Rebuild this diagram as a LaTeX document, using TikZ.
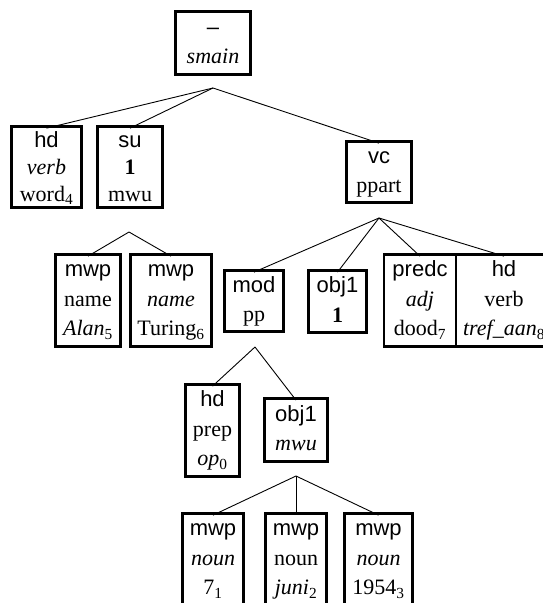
\documentclass[tikz,border=0pt]{standalone}
\usepackage{fontspec}
\setmainfont{Liberation Serif}
\setsansfont{Liberation Sans}
\tikzset{
  tbox/.style={draw, line width=2.7pt, inner sep=0pt},
  ttext/.style={inner sep=0pt, font=\fontsize{22}{29.5}\selectfont},
  tight/.style={font=\fontsize{22}{27}\selectfont, yshift=-2pt},
  plain/.style={},
  edge/.style={line width=0.9pt},
}
\newcommand{\lab}[1]{{\sffamily #1}}
% name, x, y, width, height, text options, text
\newcommand{\tb}[7]{%
  \node[tbox, minimum width=#4pt, minimum height=#5pt] (#1) at (#2,#3) {};
  \node[ttext, #6] (#1-t) at (#1.center) {\begin{tabular}{@{}c@{}}#7\end{tabular}};
}
\begin{document}
\begin{tikzpicture}[x=1pt,y=-1pt]
\useasboundingbox (0,0) rectangle (543,603);
% nodes
\tb{top}{213}{43}{75}{63}{plain}{\lab{–}\\\textit{smain}}
\tb{hd}{46.5}{167}{70}{81}{tight}{\lab{hd}\\\textit{verb}\\word\textsubscript{4}}
\tb{su}{130}{167}{65}{81}{tight}{\lab{su}\\\textbf{1}\\mwu}
\tb{vc}{379}{172}{65}{61}{plain}{\lab{vc}\\ppart}
\tb{alan}{88}{300.5}{65}{92}{plain}{\lab{mwp}\\name\\\textit{Alan}\textsubscript{5}}
\tb{turing}{171}{300.5}{81}{92}{plain}{\lab{mwp}\\\textit{name}\\Turing\textsubscript{6}}
\tb{mod}{254}{301}{59}{61}{plain}{\lab{mod}\\pp}
\tb{objone}{337.5}{301.5}{58}{62}{plain}{\lab{obj1}\\\textbf{1}}
\tb{predc}{420}{300.5}{72}{92}{plain}{\lab{predc}\\\textit{adj}\\dood\textsubscript{7}}
\tb{hdv}{504}{300.5}{96}{92}{plain}{\lab{hd}\\verb\\\textit{tref\_aan}\textsubscript{8}}
\tb{hdp}{212.5}{430.5}{54}{92}{plain}{\lab{hd}\\prep\\\textit{op}\textsubscript{0}}
\tb{objm}{296}{430}{63}{63}{plain}{\lab{obj1}\\\textit{mwu}}
\tb{seven}{213}{559.5}{61}{92}{plain}{\lab{mwp}\\\textit{noun}\\7\textsubscript{1}}
\tb{juni}{296}{559.5}{61}{92}{plain}{\lab{mwp}\\noun\\\textit{juni}\textsubscript{2}}
\tb{year}{378.5}{559.5}{68}{92}{plain}{\lab{mwp}\\\textit{noun}\\1954\textsubscript{3}}
% apexes
\coordinate (atop) at (213,88);
\coordinate (asu) at (129,232);
\coordinate (avc) at (379,218);
\coordinate (amod) at (255,347);
\coordinate (aobj) at (296,476);
% connectors
\draw[edge] (atop) -- ([yshift=-3pt]hd.north);
\draw[edge] (atop) -- ([yshift=-3pt]su.north);
\draw[edge] (atop) -- ([yshift=-3pt]vc.north);
\draw[edge] (asu) -- ([yshift=-3pt]alan.north);
\draw[edge] (asu) -- ([yshift=-3pt]turing.north);
\draw[edge] (avc) -- ([yshift=-3pt]mod.north);
\draw[edge] (avc) -- ([yshift=-3pt]objone.north);
\draw[edge] (avc) -- ([yshift=-3pt]predc.north);
\draw[edge] (avc) -- ([yshift=-3pt]hdv.north);
\draw[edge] (amod) -- ([yshift=-3pt]hdp.north);
\draw[edge] (amod) -- ([yshift=-3pt]objm.north);
\draw[edge] (aobj) -- ([yshift=-3pt]seven.north);
\draw[edge] (aobj) -- ([yshift=-3pt]juni.north);
\draw[edge] (aobj) -- ([yshift=-3pt]year.north);
\end{tikzpicture}
\end{document}
